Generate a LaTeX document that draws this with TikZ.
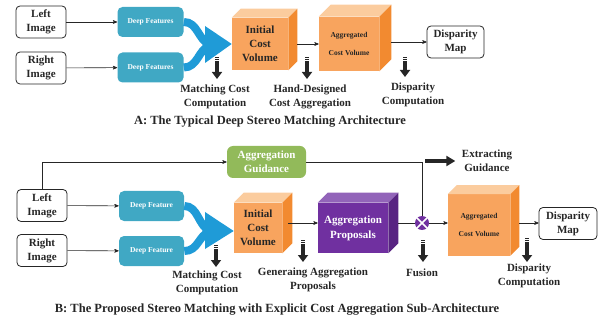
\documentclass[tikz,border=0pt]{standalone}
\usepackage{fontspec}
\setmainfont{Liberation Serif}
\usetikzlibrary{arrows, arrows.meta}

\definecolor{featblue}{RGB}{64,168,196}
\definecolor{mergeblue}{RGB}{31,155,215}
\definecolor{orfront}{RGB}{248,164,94}
\definecolor{ortop}{RGB}{251,204,158}
\definecolor{orside}{RGB}{242,138,48}
\definecolor{pufront}{RGB}{112,48,160}
\definecolor{putop}{RGB}{146,100,185}
\definecolor{puside}{RGB}{88,36,130}
\definecolor{guidegreen}{RGB}{146,186,90}
\definecolor{txt}{RGB}{38,38,38}

% top and side faces of a cube whose front face is a node
\newcommand{\cubesides}[4]{%
  \fill[#3] (#1.north west) -- ++(#2,-#2) -- ([shift={(#2,-#2)}]#1.north east) -- (#1.north east) -- cycle;
  \fill[#4] (#1.north east) -- ++(#2,-#2) -- ([shift={(#2,-#2)}]#1.south east) -- (#1.south east) -- cycle;}

\begin{document}
\begin{tikzpicture}[x=1pt,y=-1pt,>=stealth',semithick,text=txt]
        \tikzstyle{imgbox}=[draw=txt,thick,rounded corners=4pt,minimum width=50pt,minimum height=32pt,inner sep=1pt,align=center,font=\bfseries\fontsize{11}{14}\selectfont]
        \tikzstyle{featbox}=[fill=featblue,rounded corners=5pt,minimum width=66pt,minimum height=30pt,text=white,font=\bfseries\fontsize{7.5}{9}\selectfont]
        \tikzstyle{front}=[inner sep=0pt,align=center,font=\bfseries\fontsize{11}{14}\selectfont]
        \tikzstyle{lbl}=[align=center,font=\bfseries\fontsize{11}{14}\selectfont]
        \tikzstyle{conn}=[->,draw=txt]
        \tikzstyle{merge}=[draw=mergeblue,line width=8pt]
        \tikzstyle{downarr}=[draw=txt,line width=3.5pt,-{Triangle[width=10pt,length=7pt]},dash pattern=on 1pt off 1pt on 1pt off 1pt on 40pt]

        \useasboundingbox (0,0) rectangle (604,320);

        % A: typical architecture
        \node[imgbox] (limgA) at (41,22)   {Left\\Image};
        \node[imgbox] (rimgA) at (41,68)   {Right\\Image};
        \node[featbox] (dfA1) at (150.5,22)  {Deep Features};
        \node[featbox] (dfA2) at (150.5,67.5) {Deep Features};
        \node[front,fill=orfront,minimum width=56pt,minimum height=52pt] (icvA) at (260,44) {Initial\\Cost\\Volume};
        \cubesides{icvA}{9}{ortop}{orside}
        \node[front,fill=orfront,minimum width=60pt,minimum height=54pt,font=\bfseries\fontsize{7.5}{18}\selectfont] (acvA) at (349,44) {Aggregated\\Cost Volume};
        \cubesides{acvA}{12}{ortop}{orside}
        \node[imgbox,minimum width=57pt] (dmapA) at (455.5,42) {Disparity\\Map};

        \draw[conn] (limgA) -- (dfA1);
        \draw[conn] (rimgA) -- (dfA2);
        \coordinate (mA) at (210,45);
        \draw[merge] (dfA1.east) .. controls +(14,0) and (198,40) .. (mA);
        \draw[merge] (dfA2.east) .. controls +(14,0) and (198,50) .. (mA);
        \fill[mergeblue] (205,26) -- (icvA.west) -- (205,63) -- cycle;
        \draw[conn] ([xshift=9pt]icvA.east) -- (acvA.west);
        \draw[conn] ([xshift=12pt]acvA.east |- dmapA) -- (dmapA.west);

        \draw[downarr] (217,57) -- (217,79);
        \draw[downarr] (307,57) -- (307,79);
        \draw[downarr] (405,57) -- (405,77);
        \node[lbl] (mccA) at (215,97) {Matching Cost\\Computation};
        \node[lbl] (hdcA) at (310,97) {Hand-Designed\\Cost Aggregation};
        \node[lbl] (dcA)  at (413,95) {Disparity\\Computation};
        \node[lbl,font=\bfseries\fontsize{12.5}{14}\selectfont] (titleA) at (270,122) {A: The Typical Deep Stereo Matching Architecture};

        % B: proposed architecture
        \node[imgbox] (limgB) at (42,205.5) {Left\\Image};
        \node[imgbox] (rimgB) at (42,250.5) {Right\\Image};
        \node[featbox,minimum width=65pt] (dfB1) at (151.5,206) {Deep Feature};
        \node[featbox,minimum width=65pt] (dfB2) at (151.5,251) {Deep Feature};
        \node[fill=guidegreen,rounded corners=6pt,minimum width=79pt,minimum height=32pt,inner sep=1pt,align=center,text=white,font=\bfseries\fontsize{11}{14}\selectfont] (agB) at (266.5,162) {Aggregation\\Guidance};
        \node[front,fill=orfront,minimum width=48pt,minimum height=50pt] (icvB) at (258,228) {Initial\\Cost\\Volume};
        \cubesides{icvB}{10}{ortop}{orside}
        \node[front,fill=pufront,minimum width=70pt,minimum height=50pt,text=white,font=\bfseries\fontsize{11}{15}\selectfont] (apB) at (353,228) {Aggregation\\Proposals};
        \cubesides{apB}{10}{putop}{puside}
        \node[circle,fill=pufront,minimum size=14pt,inner sep=0pt] (fusB) at (422,223) {};
        \draw[white,line width=1.6pt] (fusB.north west) -- (fusB.south east) (fusB.north east) -- (fusB.south west);
        \node[front,fill=orfront,minimum width=62pt,minimum height=61pt,font=\bfseries\fontsize{7.5}{18}\selectfont] (acvB) at (479,225) {Aggregated\\Cost Volume};
        \cubesides{acvB}{9}{ortop}{orside}
        \node[imgbox,minimum width=58pt] (dmapB) at (568,223.5) {Disparity\\Map};

        \draw[conn] (limgB) -- (dfB1);
        \draw[conn] (rimgB) -- (dfB2);
        \draw[conn] (limgB.north) |- (agB.west);
        \draw[draw=txt] (agB.east) -| (fusB.north);
        \coordinate (mB) at (210,231);
        \draw[merge] (dfB1.east) .. controls +(14,0) and (198,226) .. (mB);
        \draw[merge] (dfB2.east) .. controls +(14,0) and (198,236) .. (mB);
        \fill[mergeblue] (205,212) -- (icvB.west |- mB) -- (205,249) -- cycle;
        \draw[conn] ([xshift=6pt]icvB.east |- fusB) -- (apB.west |- fusB);
        \draw[draw=txt] ([xshift=10pt]apB.east |- fusB) -- (fusB.west);
        \draw[conn] (fusB.east) -- (acvB.west |- fusB);
        \draw[conn] ([xshift=9pt]acvB.east |- fusB) -- (dmapB.west |- fusB);

        \draw[downarr] (216,245) -- (216,267);
        \draw[downarr] (303,240) -- (303,262);
        \draw[downarr] (423,240) -- (423,262);
        \draw[downarr] (527,238) -- (527,262);
        \node[lbl] (mccB) at (207,283) {Matching Cost\\Computation};
        \node[lbl] (gapB) at (313,280) {Generaing Aggregation\\Proposals};
        \node[lbl] (fuB)  at (422,273) {Fusion};
        \node[lbl] (dcB)  at (529,276) {Disparity\\Computation};
        \node[lbl] (egB)  at (487,161) {Extracting\\Guidance};
        \draw[downarr,-{Triangle[width=10pt,length=9pt]},dash pattern=on 40pt] ([xshift=-33pt]egB.west) -- ([xshift=-3pt]egB.west);
        \node[lbl,font=\bfseries\fontsize{12.5}{14}\selectfont] (titleB) at (277,310) {B: The Proposed Stereo Matching with Explicit Cost Aggregation Sub-Architecture};
    \end{tikzpicture}
\end{document}
